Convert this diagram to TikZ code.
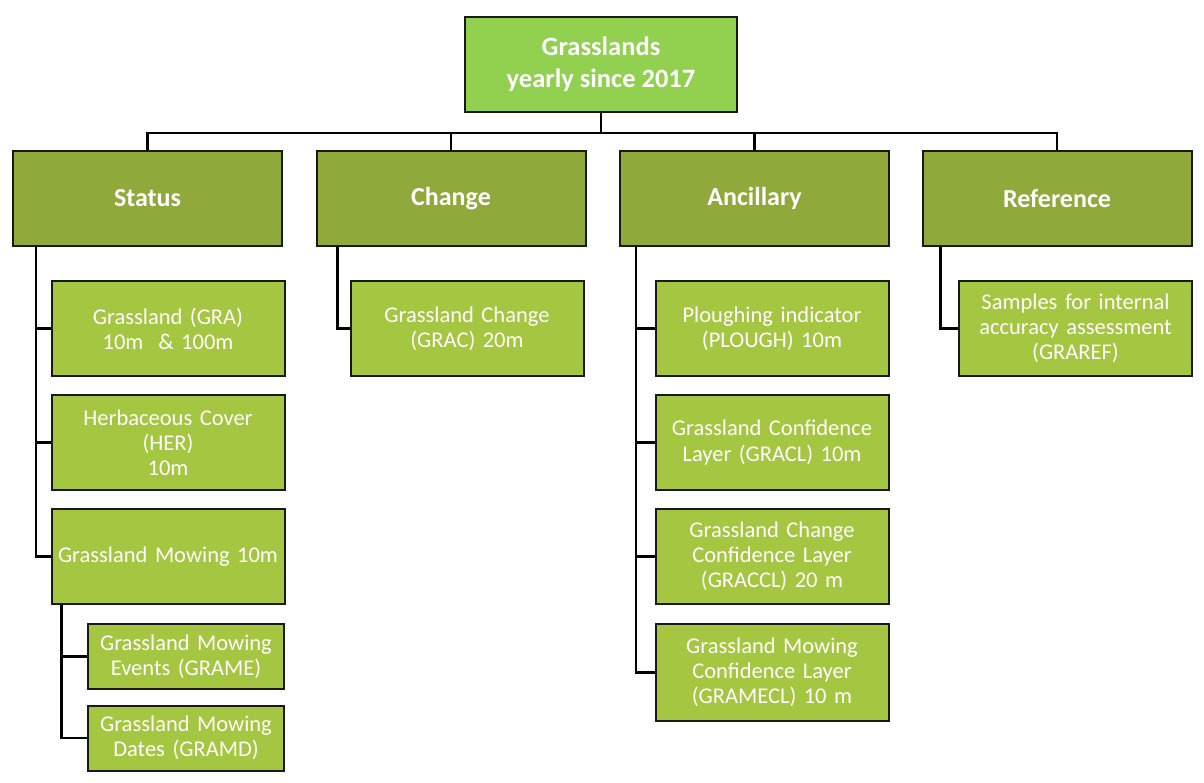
\documentclass[tikz,border=0pt]{standalone}
\usepackage{fontspec}
\setmainfont{Carlito}
\usetikzlibrary{positioning}

\definecolor{topgreen}{HTML}{92D050}
\definecolor{olivegreen}{HTML}{8FA93B}
\definecolor{leafgreen}{HTML}{A5C640}

\begin{document}
\begin{tikzpicture}[
        x=1pt, y=-1pt,
        every node/.style={rectangle, draw=black!90, line width=2pt, text=white, align=center},
        rootbox/.style={fill=topgreen, minimum width=272pt, minimum height=95pt,
            font=\fontsize{26.5}{32}\selectfont\bfseries},
        groupbox/.style={fill=olivegreen, minimum width=269pt, minimum height=95pt,
            font=\fontsize{26}{30}\selectfont\bfseries},
        leafbox/.style={fill=leafgreen, minimum width=233pt, minimum height=95pt,
            text width=227pt, inner sep=2pt, font=\fontsize{22.5}{25}\selectfont},
        subleaf/.style={leafbox, minimum width=196pt, minimum height=65pt, text width=192pt},
        link/.style={draw, line width=2.5pt}
        ]
        \useasboundingbox (0,0) rectangle (1204,783);

        % Define the nodes
        \node[rootbox] (root) at (601,64.5) {Grasslands\\yearly since 2017};

        \node[groupbox] (stat) at (147.5,198.5) {Status};
        \node[groupbox] (chg)  at (451,198.5)   {Change};
        \node[groupbox] (anc)  at (754.5,198.5) {Ancillary};
        \node[groupbox] (ref)  at (1057,198.5)  {Reference};

        \node[leafbox] (gra) at (168,328.5) {Grassland (GRA)\\10m~~\& 100m};
        \node[leafbox] (her) at (168,442.5) {Herbaceous Cover\\(HER)\\10m};
        \node[leafbox] (mow) at (168,556.5) {Grassland Mowing 10m};
        \node[subleaf] (grame) at (186,656.5) {Grassland Mowing\\Events (GRAME)};
        \node[subleaf] (gramd) at (186,738) {Grassland Mowing\\Dates (GRAMD)};

        \node[leafbox] (grac) at (467,328.5) {Grassland Change\\(GRAC) 20m};

        \node[leafbox] (plough) at (772,328.5) {Ploughing indicator\\(PLOUGH) 10m};
        \node[leafbox] (gracl)  at (772,442.5) {Grassland Confidence\\Layer (GRACL) 10m};
        \node[leafbox] (graccl) at (772,556.5) {Grassland Change\\Confidence Layer\\(GRACCL) 20 m};
        \node[leafbox, minimum height=97pt] (gramecl) at (772,672.5) {Grassland Mowing\\Confidence Layer\\(GRAMECL) 10 m};

        \node[leafbox] (graref) at (1075.5,328.5) {Samples for internal\\accuracy assessment\\(GRAREF)};

        % Draw the connectors
        \foreach \g in {stat,chg,anc,ref}
            \draw[link] (root.south) -- ++(0,20) -| (\g.north);
        \foreach \c in {gra,her,mow}
            \draw[link] ([xshift=24pt]stat.south west) |- (\c.west);
        \foreach \c in {grame,gramd}
            \draw[link] ([xshift=11pt]mow.south west) |- (\c.west);
        \draw[link] ([xshift=22pt]chg.south west) |- (grac.west);
        \foreach \c in {plough,gracl,graccl,gramecl}
            \draw[link] ([xshift=17pt]anc.south west) |- (\c.west);
        \draw[link] ([xshift=19pt]ref.south west) |- (graref.west);
    \end{tikzpicture}
\end{document}
